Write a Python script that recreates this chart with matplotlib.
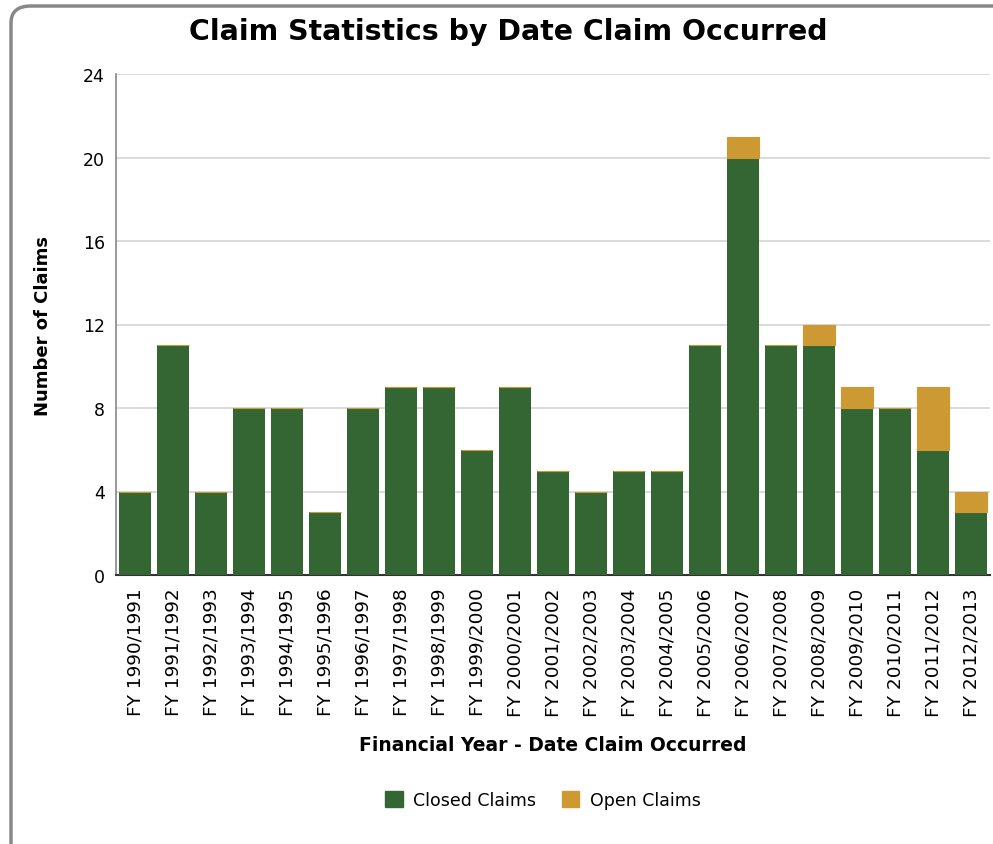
import numpy as np
import matplotlib
matplotlib.use('Agg')
import matplotlib.pyplot as plt
from matplotlib.patches import FancyBboxPatch, Patch

# data
years = ['FY 1990/1991', 'FY 1991/1992', 'FY 1992/1993', 'FY 1993/1994', 'FY 1994/1995',
         'FY 1995/1996', 'FY 1996/1997', 'FY 1997/1998', 'FY 1998/1999', 'FY 1999/2000',
         'FY 2000/2001', 'FY 2001/2002', 'FY 2002/2003', 'FY 2003/2004', 'FY 2004/2005',
         'FY 2005/2006', 'FY 2006/2007', 'FY 2007/2008', 'FY 2008/2009', 'FY 2009/2010',
         'FY 2010/2011', 'FY 2011/2012', 'FY 2012/2013']
closed_claims = [4, 11, 4, 8, 8, 3, 8, 9, 9, 6, 9, 5, 4, 5, 5, 11, 20, 11, 11, 8, 8, 6, 3]
open_claims = [0, 0, 0, 0, 0, 0, 0, 0, 0, 0, 0, 0, 0, 0, 0, 0, 1, 0, 1, 1, 0, 3, 1]
y_ticks = [0, 4, 8, 12, 16, 20, 24]

green = '#336633'
orange = '#CC9933'

plt.rcParams['font.family'] = ['DejaVu Sans']

fig = plt.figure(figsize=(9.93, 8.45), dpi=100)

# rounded frame round the chart (cut off at right and bottom)
frame = FancyBboxPatch((11 / 993, -0.05), 1.05, (845 - 7) / 845 + 0.05,
                       boxstyle='round,pad=0,rounding_size=0.02',
                       transform=fig.transFigure, fill=False,
                       edgecolor='#888888', linewidth=2.5, zorder=0)
fig.patches.append(frame)

ax = fig.add_axes([116 / 993, 269 / 845, 874 / 993, 501 / 845])

x = np.arange(len(years))
width = 0.816
ax.bar(x, closed_claims, width=width, color=green, linewidth=0, zorder=3)
ax.bar(x, open_claims, width=width, bottom=closed_claims, color=orange,
       edgecolor=orange, linewidth=0.8, zorder=3)

ax.set_xlim(-0.5, len(years) - 0.5)
ax.set_ylim(0, 24)
ax.set_yticks(y_ticks)
ax.set_yticklabels([str(t) for t in y_ticks], fontsize=12.5)
ax.set_xticks(x)
ax.set_xticklabels(years, rotation=90, fontsize=13.3)
ax.tick_params(axis='both', length=0, pad=8)
ax.tick_params(axis='x', pad=9)

ax.yaxis.grid(True, color='#d4d4d4', linewidth=1.2, zorder=0)
ax.set_axisbelow(True)
for s in ['top', 'right']:
    ax.spines[s].set_visible(False)
ax.spines['left'].set_color('#888888')
ax.spines['left'].set_linewidth(1.2)
ax.spines['bottom'].set_color('#333333')
ax.spines['bottom'].set_linewidth(1.5)

ax.set_ylabel('Number of Claims', fontsize=13, fontweight='bold', labelpad=22)
ax.set_xlabel('Financial Year - Date Claim Occurred', fontsize=13.5, fontweight='bold', labelpad=14)

fig.text(508 / 993, 1 - 32 / 845, 'Claim Statistics by Date Claim Occurred',
         fontsize=20.4, fontweight='bold', ha='center', va='center')

handles = [Patch(color=green, label='Closed Claims'), Patch(color=orange, label='Open Claims')]
fig.legend(handles=handles, loc='center', bbox_to_anchor=(543 / 993, 1 - 801 / 845),
           ncol=2, frameon=False, fontsize=12.5, handlelength=1.0, handleheight=1.0,
           columnspacing=1.5, handletextpad=0.6)

fig.savefig('out.png', dpi=100)
